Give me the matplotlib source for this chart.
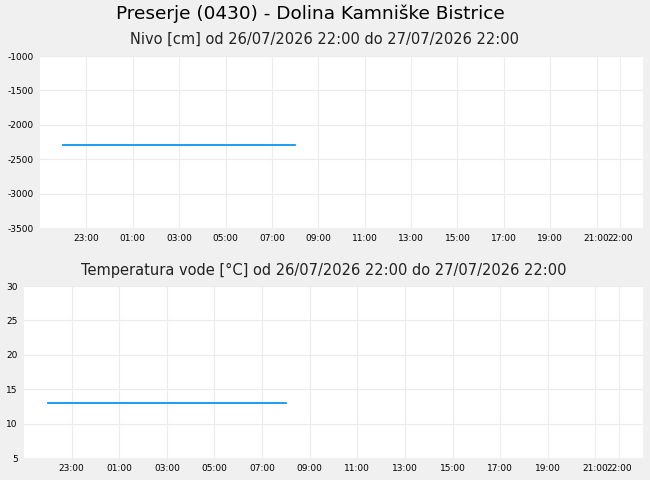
import datetime as dt
import matplotlib
matplotlib.use("Agg")
import matplotlib.pyplot as plt
import matplotlib.dates as mdates

# Data (hourly readings, only the first part of the day is available)
times = ["2026-07-26 22:00", "2026-07-26 23:00", "2026-07-27 00:00", "2026-07-27 01:00",
         "2026-07-27 02:00", "2026-07-27 03:00", "2026-07-27 04:00", "2026-07-27 05:00",
         "2026-07-27 06:00", "2026-07-27 07:00", "2026-07-27 08:00"]
nivo = [-2300, -2300, -2300, -2300, -2300, -2300, -2300, -2300, -2300, -2300, -2300]
temperatura = [13.0, 13.0, 13.0, 13.0, 13.0, 13.0, 13.0, 13.0, 13.0, 13.0, 13.0]

nivo_ticks = [-1000, -1500, -2000, -2500, -3000, -3500]
temp_ticks = [30, 25, 20, 15, 10, 5]

t = [dt.datetime.strptime(s, "%Y-%m-%d %H:%M") for s in times]
t_start = dt.datetime(2026, 7, 26, 22, 0)
t_end = dt.datetime(2026, 7, 27, 22, 0)
x_ticks = [t_start + dt.timedelta(hours=h) for h in range(1, 24, 2)] + [t_end]

bg = "#f0f0f0"
grid_col = "#ececec"
line_col = "#0a96f0"

plt.rcParams["font.family"] = ["DejaVu Sans"]
plt.rcParams["axes.unicode_minus"] = False

fig = plt.figure(figsize=(6.5, 4.8), dpi=100, facecolor=bg)

fig.text(310 / 650, 1 - 14 / 480, "Preserje (0430) - Dolina Kamniške Bistrice",
         ha="center", va="center", fontsize=13.3)


def setup(ax, yt, title, title_y):
    ax.set_facecolor("white")
    for s in ax.spines.values():
        s.set_visible(False)
    ax.set_xlim(t_start - dt.timedelta(hours=1), t_end + dt.timedelta(hours=1))
    ax.set_ylim(min(yt), max(yt))
    ax.set_yticks(yt)
    ax.set_xticks(x_ticks)
    ax.xaxis.set_major_formatter(mdates.DateFormatter("%H:%M"))
    ax.tick_params(length=0, labelsize=6.5, pad=4.5)
    ax.grid(True, color=grid_col, linewidth=0.8)
    ax.set_axisbelow(True)
    fig.text(324 / 650, 1 - title_y / 480, title, ha="center", va="center",
             fontsize=10.5, color="#222222")


ax1 = fig.add_axes([40 / 650, 1 - 228 / 480, 603 / 650, 172 / 480])
setup(ax1, nivo_ticks, "Nivo [cm] od 26/07/2026 22:00 do 27/07/2026 22:00", 39)
ax1.plot(t, nivo, color=line_col, linewidth=1.3)

ax2 = fig.add_axes([24 / 650, 1 - 458 / 480, 619 / 650, 172 / 480])
setup(ax2, temp_ticks, "Temperatura vode [°C] od 26/07/2026 22:00 do 27/07/2026 22:00", 270)
ax2.plot(t, temperatura, color=line_col, linewidth=1.3)

fig.savefig("out.png", dpi=100, facecolor=bg)
